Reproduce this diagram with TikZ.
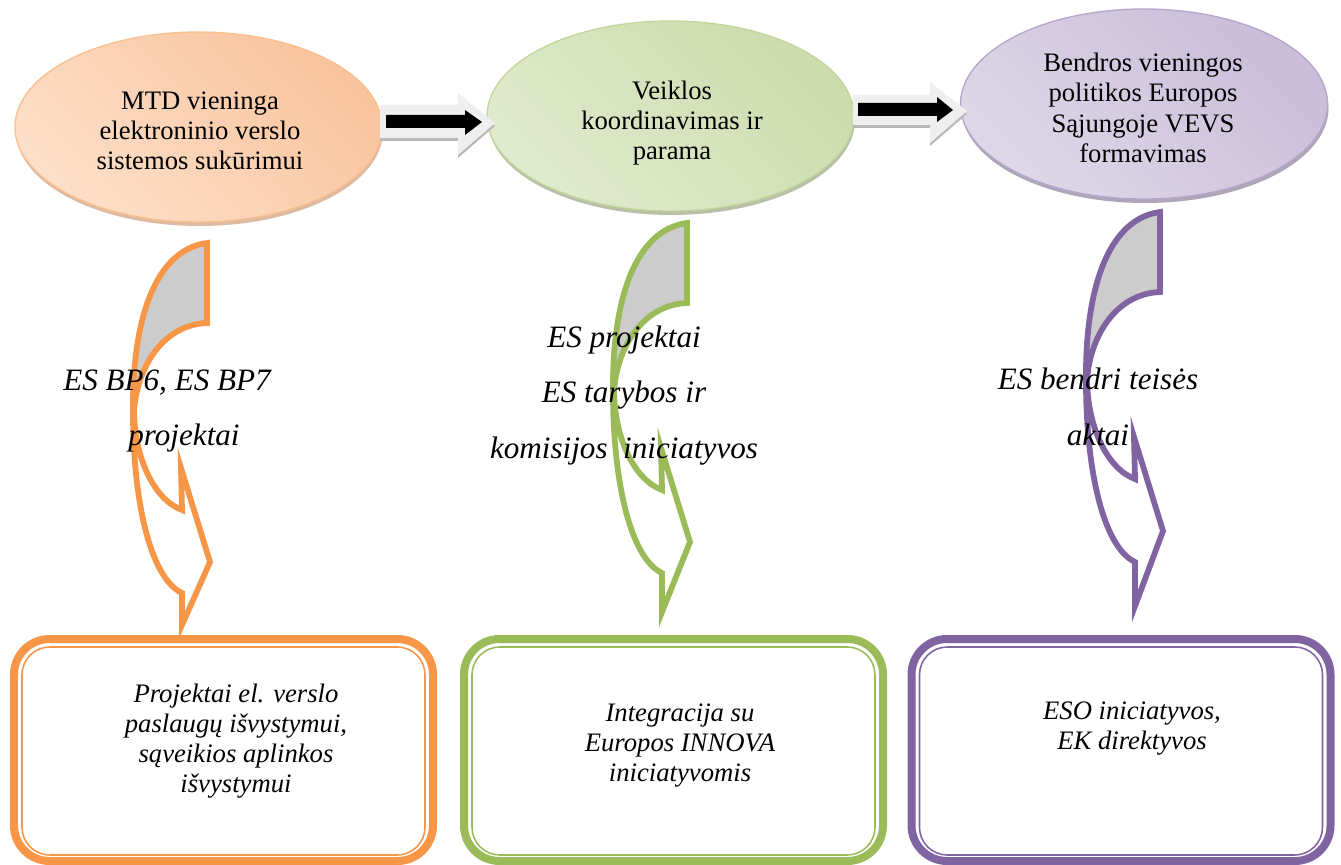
\documentclass[tikz,border=0pt]{standalone}
\usepackage{fontspec}
\setmainfont{Liberation Serif}
\usetikzlibrary{shapes.geometric,calc}

% accent colours
\definecolor{accOrange}{HTML}{F79646}
\definecolor{accGreen}{HTML}{9BBB59}
\definecolor{accPurple}{HTML}{8064A2}
% ellipse fills, outlines and bevel edges
\definecolor{orLight}{HTML}{FEEFE5}
\definecolor{orMid}{HTML}{FCDFC9}
\definecolor{orDark}{HTML}{F9C49D}
\definecolor{orLine}{HTML}{FAC090}
\definecolor{orEdge}{HTML}{DDBBA2}
\definecolor{grLight}{HTML}{EEF4E4}
\definecolor{grMid}{HTML}{E0EACD}
\definecolor{grDark}{HTML}{CDDCAD}
\definecolor{grLine}{HTML}{C3D69B}
\definecolor{grEdge}{HTML}{B8C0A8}
\definecolor{puLight}{HTML}{ECE8F2}
\definecolor{puMid}{HTML}{DED7E8}
\definecolor{puDark}{HTML}{C9BDD9}
\definecolor{puLine}{HTML}{B7A6CC}
\definecolor{puEdge}{HTML}{AEA6B8}
% neutral tones
\definecolor{bentGray}{HTML}{CCCCCC}
\definecolor{blockLight}{HTML}{EFEFEF}
\definecolor{blockShadow}{HTML}{B8B8B8}

\tikzset{
  oval/.style={ellipse, draw, line width=0.6pt, inner sep=0pt,
    minimum width=165.15pt, minimum height=85.5pt},
  ovalshade/.style n args={3}{top color=#1, middle color=#2, bottom color=#3,
    shading angle=-45},
  ovaltext/.style={inner sep=0pt, align=center,
    font=\fontsize{12}{13.6}\selectfont},
  framebox/.style={draw, rounded corners=16pt, line width=3.6pt, outer sep=0pt,
    fill=white, minimum width=188.55pt, minimum height=99.9pt},
  frameinner/.style={line width=0.7pt, rounded corners=12.5pt},
  boxtext/.style={inner sep=0pt, align=center,
    font=\fontsize{12}{13.5}\selectfont\itshape},
  labeltext/.style={inner sep=0pt, align=center,
    font=\fontsize{14}{25}\selectfont\itshape},
  bentline/.style={line width=2.6pt, line join=miter, miter limit=10},
  blockarrow/.style={fill=blockLight},
  blockshade/.style={fill=blockShadow},
  blockinner/.style={fill=black}
}

% curved ribbon arrow: colour, x shift, y shift, tip position
\newcommand{\bentarrow}[4]{%
  \begin{scope}[shift={(#2,#3)}]
    \fill[bentGray] (207,243) .. controls (155,250) and (132,320) .. (133,412)
      .. controls (136,372) and (160,325) .. (207,323) -- cycle;
    \draw[bentline, draw=#1] (207,243) .. controls (155,250) and (132,320) .. (133,412)
      .. controls (133,500) and (150,578) .. (182,593)
      -- (182,#4) -- (210,562) -- (181,468) -- (182,510)
      .. controls (155,500) and (135,460) .. (134,412)
      .. controls (136,372) and (160,325) .. (207,323) -- cycle;
  \end{scope}}

\begin{document}
\begin{tikzpicture}[x=0.45pt, y=-0.45pt]
\useasboundingbox (0,0) rectangle (1341,865);

% bevel edges under the ovals
\fill[orEdge]  (199.5,131) ellipse [x radius=183.5, y radius=95];
\fill[grEdge]  (671.5,120) ellipse [x radius=183.5, y radius=95];
\fill[puEdge]  (1145,108)  ellipse [x radius=183.5, y radius=95];

% ovals
\node[oval, draw=orLine, ovalshade={orDark}{orLight}{orMid}] (e1) at (198.5,127) {};
\node[oval, draw=grLine, ovalshade={grDark}{grLight}{grMid}] (e2) at (670.5,116) {};
\node[oval, draw=puLine, ovalshade={puDark}{puLight}{puMid}] (e3) at (1144,104) {};

\node[ovaltext] (t1) at (200,130.7) {MTD vieninga\\elektroninio verslo\\sistemos sukūrimui};
\node[ovaltext] (t2) at (672,123.3) {Veiklos\\koordinavimas ir\\parama};
\node[ovaltext] (t3) at (1143,107.9) {Bendros vieningos\\politikos Europos\\Sąjungoje VEVS\\formavimas};

% block arrows between the ovals
\fill[blockshade] (380,108) -- (458,108) -- (458,96) -- (495,126) -- (458,158) -- (458,141) -- (380,141) -- cycle;
\fill[blockarrow] (380,105) -- (458,105) -- (458,93) -- (495,123) -- (458,155) -- (458,138) -- (380,138) -- cycle;
\fill[blockinner] (386,115) -- (465,115) -- (465,110) -- (482,122) -- (465,135) -- (465,128) -- (386,128) -- cycle;

\fill[blockshade] (853,98) -- (930,98) -- (930,85) -- (967,114) -- (930,146) -- (930,128) -- (853,128) -- cycle;
\fill[blockarrow] (853,95) -- (930,95) -- (930,82) -- (967,111) -- (930,143) -- (930,125) -- (853,125) -- cycle;
\fill[blockinner] (858,103) -- (937,103) -- (937,97) -- (953,110) -- (937,122) -- (937,116) -- (858,116) -- cycle;

% framed boxes
\node[framebox, draw=accOrange] (b1) at (223.5,750) {};
\node[framebox, draw=accGreen]  (b2) at (673.5,750) {};
\node[framebox, draw=accPurple] (b3) at (1121,750) {};
\draw[frameinner, accOrange] ($(b1.north west)+(8,8)$) rectangle ($(b1.south east)+(-8,-6)$);
\draw[frameinner, accGreen]  ($(b2.north west)+(8,8)$) rectangle ($(b2.south east)+(-8,-6)$);
\draw[frameinner, accPurple] ($(b3.north west)+(8,8)$) rectangle ($(b3.south east)+(-8,-6)$);

% curved ribbon arrows from the ovals down to the boxes
\bentarrow{accOrange}{0}{0}{625}
\bentarrow{accGreen}{480}{-20}{632}
\bentarrow{accPurple}{953}{-31}{637}

% box texts
\node[boxtext] (bt1) at (236,740.8) {Projektai el. verslo\\paslaugų išvystymui,\\sąveikios aplinkos\\išvystymui};
\node[boxtext] (bt2) at (680,745.2) {Integracija su\\Europos INNOVA\\iniciatyvomis};
\node[boxtext] (bt3) at (1132,728.9) {ESO iniciatyvos,\\EK direktyvos};

% ribbon labels
\node[labeltext] (l1a) at (167,382.5) {ES BP6, ES BP7};
\node[labeltext] (l1b) at (184,437.8) {projektai};
\node[labeltext] (l2) at (624,395.3) {ES projektai\\ES tarybos ir\\komisijos\ \ iniciatyvos};
\node[labeltext] (l3) at (1098,406.9) {ES bendri teisės\\aktai};
\end{tikzpicture}
\end{document}
